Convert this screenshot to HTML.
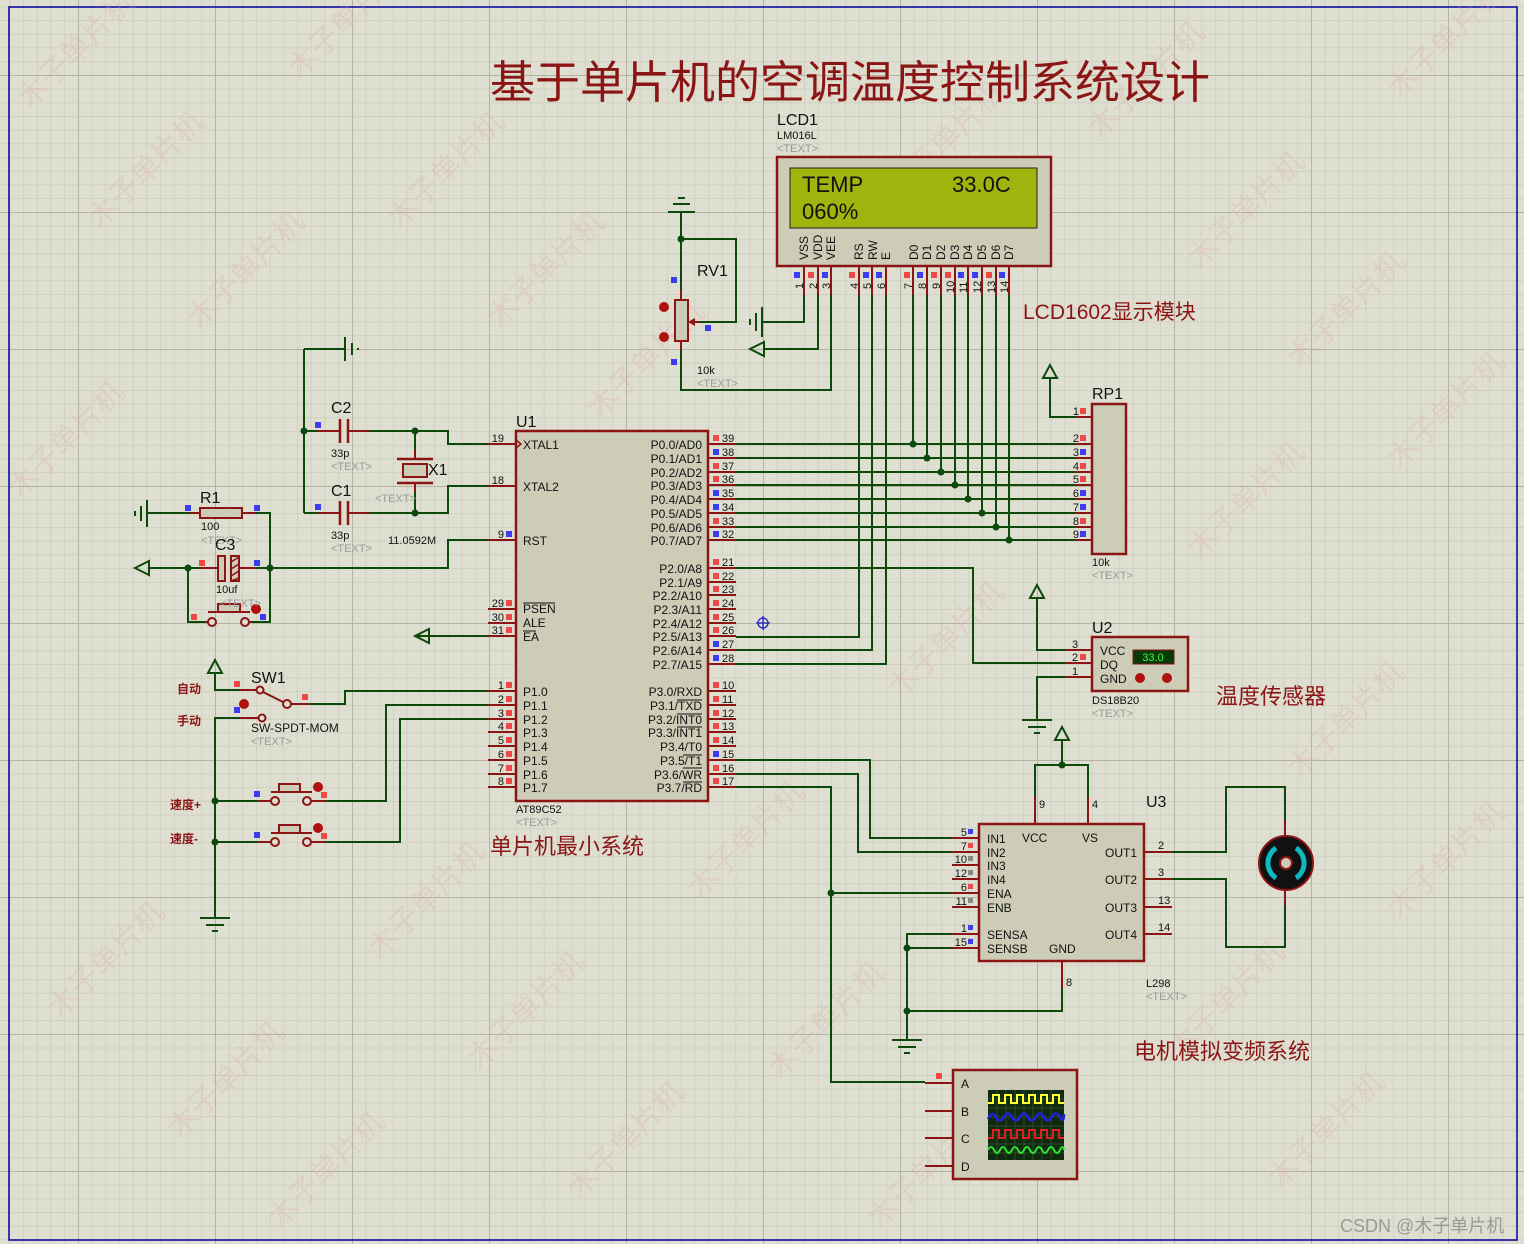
<!DOCTYPE html>
<html><head><meta charset="utf-8"><style>
html,body{margin:0;padding:0;background:#dfdfd1}
svg{display:block}
text{font-family:"Liberation Sans","Noto Sans CJK SC",sans-serif}
.w{stroke:#0c4a0c;stroke-width:2;fill:none}
.p{stroke:#8b1414;stroke-width:2;fill:none}
.b{fill:#cdccb7;stroke:#8b1414;stroke-width:2.5}
.t{font-size:12px;fill:#111}
.s{font-size:11px;fill:#111}
.g{font-size:11px;fill:#999}
.L{font-size:16px;fill:#111}
.cn{fill:#8b1414;font-family:"Liberation Sans","Noto Sans CJK SC",sans-serif}
.r{fill:#f04848}.u{fill:#3c3cf0}.gr{fill:#888}
.wm{font-size:30px;fill:#e0a0a0;opacity:.22;font-family:"Noto Sans CJK SC",sans-serif}
</style></head><body>
<svg width="1524" height="1244" viewBox="0 0 1524 1244" xmlns="http://www.w3.org/2000/svg">
<defs>
<pattern id="mi" x="78" y="75" width="13.7" height="13.7" patternUnits="userSpaceOnUse"><path d="M0,0H13.7M0,0V13.7" stroke="#c8c8b8" stroke-width="1.2" fill="none"/></pattern>
<pattern id="ma" x="78" y="75" width="137" height="137" patternUnits="userSpaceOnUse"><path d="M0,0H137M0,0V137" stroke="#b4b4a4" stroke-width="2" fill="none"/></pattern>
</defs>
<rect width="1524" height="1244" fill="#dfdfd1"/>
<rect width="1524" height="1244" fill="url(#mi)"/>
<rect width="1524" height="1244" fill="url(#ma)"/>
<rect x="9" y="7" width="1508" height="1233" fill="none" stroke="#0000a0" stroke-width="1.5"/>

<g>
<text class="wm" transform="translate(30,110) rotate(-45)">木子单片机</text>
<text class="wm" transform="translate(300,80) rotate(-45)">木子单片机</text>
<text class="wm" transform="translate(100,230) rotate(-45)">木子单片机</text>
<text class="wm" transform="translate(200,330) rotate(-45)">木子单片机</text>
<text class="wm" transform="translate(20,500) rotate(-45)">木子单片机</text>
<text class="wm" transform="translate(400,230) rotate(-45)">木子单片机</text>
<text class="wm" transform="translate(500,330) rotate(-45)">木子单片机</text>
<text class="wm" transform="translate(600,420) rotate(-45)">木子单片机</text>
<text class="wm" transform="translate(900,200) rotate(-45)">木子单片机</text>
<text class="wm" transform="translate(1100,140) rotate(-45)">木子单片机</text>
<text class="wm" transform="translate(1400,100) rotate(-45)">木子单片机</text>
<text class="wm" transform="translate(1200,270) rotate(-45)">木子单片机</text>
<text class="wm" transform="translate(1300,370) rotate(-45)">木子单片机</text>
<text class="wm" transform="translate(1400,470) rotate(-45)">木子单片机</text>
<text class="wm" transform="translate(1200,560) rotate(-45)">木子单片机</text>
<text class="wm" transform="translate(900,700) rotate(-45)">木子单片机</text>
<text class="wm" transform="translate(580,800) rotate(-45)">木子单片机</text>
<text class="wm" transform="translate(700,900) rotate(-45)">木子单片机</text>
<text class="wm" transform="translate(1300,780) rotate(-45)">木子单片机</text>
<text class="wm" transform="translate(1400,920) rotate(-45)">木子单片机</text>
<text class="wm" transform="translate(60,1020) rotate(-45)">木子单片机</text>
<text class="wm" transform="translate(380,960) rotate(-45)">木子单片机</text>
<text class="wm" transform="translate(480,1070) rotate(-45)">木子单片机</text>
<text class="wm" transform="translate(180,1140) rotate(-45)">木子单片机</text>
<text class="wm" transform="translate(580,1200) rotate(-45)">木子单片机</text>
<text class="wm" transform="translate(780,1080) rotate(-45)">木子单片机</text>
<text class="wm" transform="translate(1180,1060) rotate(-45)">木子单片机</text>
<text class="wm" transform="translate(1280,1190) rotate(-45)">木子单片机</text>
<text class="wm" transform="translate(280,1230) rotate(-45)">木子单片机</text>
<text class="wm" transform="translate(880,1230) rotate(-45)">木子单片机</text>
</g>

<text x="490" y="98" class="cn" font-size="45">基于单片机的空调温度控制系统设计</text>
<text x="1023" y="319" class="cn" font-size="21">LCD1602显示模块</text>
<text x="1216" y="704" class="cn" font-size="22">温度传感器</text>
<text x="490" y="854" class="cn" font-size="22">单片机最小系统</text>
<text x="1134" y="1059" class="cn" font-size="22">电机模拟变频系统</text>
<text x="1340" y="1232" font-size="18" fill="#9a9a9a">CSDN @木子单片机</text>

<!-- LCD -->
<text x="777" y="125" class="L">LCD1</text>
<text x="777" y="139" class="s">LM016L</text>
<text x="777" y="152" class="g">&lt;TEXT&gt;</text>
<rect x="777" y="157" width="274" height="109" class="b"/>
<rect x="790" y="168" width="247" height="60" fill="#9fb40c" stroke="#222" stroke-width="1"/>
<text x="802" y="192" font-family="DejaVu Sans Mono,monospace" font-size="22" fill="#111">TEMP</text>
<text x="952" y="192" font-family="DejaVu Sans Mono,monospace" font-size="22" fill="#111">33.0C</text>
<text x="802" y="219" font-family="DejaVu Sans Mono,monospace" font-size="22" fill="#111">060%</text>
<g class="t" font-size="12">
<text transform="translate(808,260) rotate(-90)">VSS</text>
<text transform="translate(822,260) rotate(-90)">VDD</text>
<text transform="translate(835,260) rotate(-90)">VEE</text>
<text transform="translate(863,260) rotate(-90)">RS</text>
<text transform="translate(877,260) rotate(-90)">RW</text>
<text transform="translate(890,260) rotate(-90)">E</text>
<text transform="translate(918,260) rotate(-90)">D0</text>
<text transform="translate(931,260) rotate(-90)">D1</text>
<text transform="translate(945,260) rotate(-90)">D2</text>
<text transform="translate(959,260) rotate(-90)">D3</text>
<text transform="translate(972,260) rotate(-90)">D4</text>
<text transform="translate(986,260) rotate(-90)">D5</text>
<text transform="translate(1000,260) rotate(-90)">D6</text>
<text transform="translate(1013,260) rotate(-90)">D7</text>
</g>
<g class="p">
<path d="M804,266V295M818,266V295M831,266V295M859,266V295M872,266V295M886,266V295M913,266V295M927,266V295M941,266V295M955,266V295M968,266V295M982,266V295M996,266V295M1009,266V295"/>
</g>
<g font-size="11" fill="#111">
<text transform="translate(803,289) rotate(-90)">1</text>
<text transform="translate(817,289) rotate(-90)">2</text>
<text transform="translate(830,289) rotate(-90)">3</text>
<text transform="translate(858,289) rotate(-90)">4</text>
<text transform="translate(871,289) rotate(-90)">5</text>
<text transform="translate(885,289) rotate(-90)">6</text>
<text transform="translate(912,289) rotate(-90)">7</text>
<text transform="translate(926,289) rotate(-90)">8</text>
<text transform="translate(940,289) rotate(-90)">9</text>
<text transform="translate(954,293) rotate(-90)">10</text>
<text transform="translate(967,293) rotate(-90)">11</text>
<text transform="translate(981,293) rotate(-90)">12</text>
<text transform="translate(995,293) rotate(-90)">13</text>
<text transform="translate(1008,293) rotate(-90)">14</text>
</g>
<rect x="794" y="272" width="6" height="6" class="u"/><rect x="808" y="272" width="6" height="6" class="r"/><rect x="822" y="272" width="6" height="6" class="u"/>
<rect x="849" y="272" width="6" height="6" class="r"/><rect x="863" y="272" width="6" height="6" class="u"/><rect x="876" y="272" width="6" height="6" class="u"/>
<rect x="904" y="272" width="6" height="6" class="r"/><rect x="917" y="272" width="6" height="6" class="u"/><rect x="931" y="272" width="6" height="6" class="r"/>
<rect x="945" y="272" width="6" height="6" class="r"/><rect x="958" y="272" width="6" height="6" class="u"/><rect x="972" y="272" width="6" height="6" class="u"/>
<rect x="986" y="272" width="6" height="6" class="r"/><rect x="999" y="272" width="6" height="6" class="u"/>

<g class="w">
<path d="M804,295V322H762"/>
<path d="M818,295V349H764"/>
<path d="M831,295V390H681V350"/>
<path d="M859,295V637H736"/>
<path d="M872,295V650H736"/>
<path d="M886,295V664H736"/>
<path d="M913,295V444M927,295V458M941,295V472M955,295V485M968,295V499M982,295V513M996,295V527M1009,295V540"/>
<path d="M736,444H1075M736,458H1075M736,472H1075M736,485H1075M736,499H1075M736,513H1075M736,527H1075M736,540H1075"/>
</g>
<g fill="#0c4a0c">
<circle cx="913" cy="444" r="3.5"/><circle cx="927" cy="458" r="3.5"/><circle cx="941" cy="472" r="3.5"/><circle cx="955" cy="485" r="3.5"/><circle cx="968" cy="499" r="3.5"/><circle cx="982" cy="513" r="3.5"/><circle cx="996" cy="527" r="3.5"/><circle cx="1009" cy="540" r="3.5"/>
</g>
<g stroke="#0c4a0c" stroke-width="2"><path d="M762,307V337M756,313V331M750,319V325"/></g>
<polygon points="750,349 764,342 764,356" fill="none" stroke="#0c4a0c" stroke-width="2"/>

<!-- RV1 -->
<g class="w"><path d="M681,212V290M681,239H736V322H700"/></g>
<circle cx="681" cy="239" r="3.5" fill="#0c4a0c"/>
<g stroke="#0c4a0c" stroke-width="2"><path d="M668,212H695M673,204H690M678,198H685"/></g>
<g class="p"><path d="M681,290V300M681,341V350M700,322H690"/></g>
<polygon points="688,322 695,318 695,326" fill="#8b1414"/>
<rect x="675" y="300" width="13" height="41" fill="#cdccb7" stroke="#8b1414" stroke-width="2"/>
<circle cx="664" cy="307" r="5" fill="#b01010"/><circle cx="664" cy="337" r="5" fill="#b01010"/>
<rect x="671" y="277" width="6" height="6" class="u"/><rect x="705" y="325" width="6" height="6" class="u"/><rect x="671" y="359" width="6" height="6" class="u"/>
<text x="697" y="276" class="L">RV1</text>
<text x="697" y="374" class="s">10k</text>
<text x="697" y="387" class="g">&lt;TEXT&gt;</text>

<!-- RP1 -->
<text x="1092" y="399" class="L">RP1</text>
<rect x="1092" y="404" width="34" height="150" class="b"/>
<g class="p"><path d="M1075,417H1092M1075,444H1092M1075,458H1092M1075,472H1092M1075,485H1092M1075,499H1092M1075,513H1092M1075,527H1092M1075,540H1092"/></g>
<g class="s" text-anchor="end">
<text x="1079" y="415">1</text><text x="1079" y="442">2</text><text x="1079" y="456">3</text><text x="1079" y="470">4</text><text x="1079" y="483">5</text><text x="1079" y="497">6</text><text x="1079" y="511">7</text><text x="1079" y="525">8</text><text x="1079" y="538">9</text>
</g>
<rect x="1080" y="408" width="6" height="6" class="r"/><rect x="1080" y="435" width="6" height="6" class="r"/><rect x="1080" y="449" width="6" height="6" class="u"/><rect x="1080" y="463" width="6" height="6" class="r"/><rect x="1080" y="476" width="6" height="6" class="r"/><rect x="1080" y="490" width="6" height="6" class="u"/><rect x="1080" y="504" width="6" height="6" class="u"/><rect x="1080" y="518" width="6" height="6" class="r"/><rect x="1080" y="531" width="6" height="6" class="u"/>
<path d="M1050,378V417H1075" class="w"/>
<polygon points="1050,365 1043,378 1057,378" fill="none" stroke="#0c4a0c" stroke-width="2"/>
<text x="1092" y="566" class="s">10k</text>
<text x="1092" y="579" class="g">&lt;TEXT&gt;</text>

<!-- MCU -->
<text x="516" y="427" class="L">U1</text>
<rect x="516" y="431" width="192" height="370" class="b"/>
<g class="p">
<path d="M708,444H736M708,458H736M708,472H736M708,485H736M708,499H736M708,513H736M708,527H736M708,540H736"/>
<path d="M708,568H736M708,582H736M708,595H736M708,609H736M708,623H736M708,636H736M708,650H736M708,664H736"/>
<path d="M708,691H736M708,705H736M708,719H736M708,732H736M708,746H736M708,760H736M708,774H736M708,787H736"/>
<path d="M488,444H516M488,486H516M488,540H516M488,609H516M488,623H516M488,636H516"/>
<path d="M488,691H516M488,705H516M488,719H516M488,732H516M488,746H516M488,760H516M488,774H516M488,787H516"/>
</g>
<polyline points="516,440 521,444 516,448" fill="none" stroke="#8b1414" stroke-width="1.5"/>
<g class="s">
<text x="722" y="442">39</text><text x="722" y="456">38</text><text x="722" y="470">37</text><text x="722" y="483">36</text><text x="722" y="497">35</text><text x="722" y="511">34</text><text x="722" y="525">33</text><text x="722" y="538">32</text>
<text x="722" y="566">21</text><text x="722" y="580">22</text><text x="722" y="593">23</text><text x="722" y="607">24</text><text x="722" y="621">25</text><text x="722" y="634">26</text><text x="722" y="648">27</text><text x="722" y="662">28</text>
<text x="722" y="689">10</text><text x="722" y="703">11</text><text x="722" y="717">12</text><text x="722" y="730">13</text><text x="722" y="744">14</text><text x="722" y="758">15</text><text x="722" y="772">16</text><text x="722" y="785">17</text>
</g>
<g class="s" text-anchor="end">
<text x="504" y="442">19</text><text x="504" y="484">18</text><text x="504" y="538">9</text>
<text x="504" y="607">29</text><text x="504" y="621">30</text><text x="504" y="634">31</text>
<text x="504" y="689">1</text><text x="504" y="703">2</text><text x="504" y="717">3</text><text x="504" y="730">4</text><text x="504" y="744">5</text><text x="504" y="758">6</text><text x="504" y="772">7</text><text x="504" y="785">8</text>
</g>
<g>
<rect x="713" y="435" width="6" height="6" class="r"/><rect x="713" y="449" width="6" height="6" class="u"/><rect x="713" y="463" width="6" height="6" class="r"/><rect x="713" y="476" width="6" height="6" class="r"/><rect x="713" y="490" width="6" height="6" class="u"/><rect x="713" y="504" width="6" height="6" class="u"/><rect x="713" y="518" width="6" height="6" class="r"/><rect x="713" y="531" width="6" height="6" class="u"/>
<rect x="713" y="559" width="6" height="6" class="r"/><rect x="713" y="573" width="6" height="6" class="r"/><rect x="713" y="586" width="6" height="6" class="r"/><rect x="713" y="600" width="6" height="6" class="r"/><rect x="713" y="614" width="6" height="6" class="r"/><rect x="713" y="627" width="6" height="6" class="r"/><rect x="713" y="641" width="6" height="6" class="u"/><rect x="713" y="655" width="6" height="6" class="u"/>
<rect x="713" y="682" width="6" height="6" class="r"/><rect x="713" y="696" width="6" height="6" class="r"/><rect x="713" y="710" width="6" height="6" class="r"/><rect x="713" y="723" width="6" height="6" class="r"/><rect x="713" y="737" width="6" height="6" class="r"/><rect x="713" y="751" width="6" height="6" class="u"/><rect x="713" y="765" width="6" height="6" class="r"/><rect x="713" y="778" width="6" height="6" class="r"/>
<rect x="506" y="531" width="6" height="6" class="u"/>
<rect x="506" y="600" width="6" height="6" class="r"/><rect x="506" y="614" width="6" height="6" class="r"/><rect x="506" y="627" width="6" height="6" class="r"/>
<rect x="506" y="682" width="6" height="6" class="r"/><rect x="506" y="696" width="6" height="6" class="r"/><rect x="506" y="710" width="6" height="6" class="r"/><rect x="506" y="723" width="6" height="6" class="r"/><rect x="506" y="737" width="6" height="6" class="r"/><rect x="506" y="751" width="6" height="6" class="r"/><rect x="506" y="765" width="6" height="6" class="r"/><rect x="506" y="778" width="6" height="6" class="r"/>
</g>
<g class="t">
<text x="523" y="449">XTAL1</text><text x="523" y="491">XTAL2</text><text x="523" y="545">RST</text>
<text x="523" y="613">PSEN</text><text x="523" y="627">ALE</text><text x="523" y="641">EA</text>
<text x="523" y="696">P1.0</text><text x="523" y="710">P1.1</text><text x="523" y="724">P1.2</text><text x="523" y="737">P1.3</text><text x="523" y="751">P1.4</text><text x="523" y="765">P1.5</text><text x="523" y="779">P1.6</text><text x="523" y="792">P1.7</text>
</g>
<path d="M523,603H555M523,631H536" stroke="#111" stroke-width="1"/>
<g class="t" text-anchor="end">
<text x="702" y="449">P0.0/AD0</text><text x="702" y="463">P0.1/AD1</text><text x="702" y="477">P0.2/AD2</text><text x="702" y="490">P0.3/AD3</text><text x="702" y="504">P0.4/AD4</text><text x="702" y="518">P0.5/AD5</text><text x="702" y="532">P0.6/AD6</text><text x="702" y="545">P0.7/AD7</text>
<text x="702" y="573">P2.0/A8</text><text x="702" y="587">P2.1/A9</text><text x="702" y="600">P2.2/A10</text><text x="702" y="614">P2.3/A11</text><text x="702" y="628">P2.4/A12</text><text x="702" y="641">P2.5/A13</text><text x="702" y="655">P2.6/A14</text><text x="702" y="669">P2.7/A15</text>
<text x="702" y="696">P3.0/RXD</text><text x="702" y="710">P3.1/TXD</text><text x="702" y="724">P3.2/INT0</text><text x="702" y="737">P3.3/INT1</text><text x="702" y="751">P3.4/T0</text><text x="702" y="765">P3.5/T1</text><text x="702" y="779">P3.6/WR</text><text x="702" y="792">P3.7/RD</text>
</g>
<path d="M677,700H702M677,714H702M677,727H702M683,755H702M683,768H702M683,782H702" stroke="#111" stroke-width="1"/>
<text x="516" y="813" class="s">AT89C52</text>
<text x="516" y="826" class="g">&lt;TEXT&gt;</text>
<g stroke="#2020c0" stroke-width="1.3" fill="none"><circle cx="763" cy="623" r="5"/><path d="M756,623H770M763,616V630"/></g>

<!-- Crystal -->
<g class="w">
<path d="M304,349V513M304,349H345M304,431H318M370,431H448V444H488M304,513H318M370,513H448V486H488"/>
<path d="M415,431V450M415,492V513"/>
</g>
<circle cx="304" cy="431" r="3.5" fill="#0c4a0c"/><circle cx="415" cy="431" r="3.5" fill="#0c4a0c"/><circle cx="415" cy="513" r="3.5" fill="#0c4a0c"/>
<g stroke="#0c4a0c" stroke-width="2"><path d="M345,337V361M352,343V355M358,348V350"/></g>
<g class="p"><path d="M318,431H340M348,431H370M318,513H340M348,513H370M415,450V459M415,483V492"/></g>
<g stroke="#8b1414" stroke-width="2.5"><path d="M340,419V443M348,419V443M340,501V525M348,501V525M397,459H433M397,483H433"/></g>
<rect x="403" y="464" width="24" height="13" fill="#cdccb7" stroke="#8b1414" stroke-width="2"/>
<rect x="315" y="422" width="6" height="6" class="u"/><rect x="315" y="504" width="6" height="6" class="u"/>
<text x="331" y="413" class="L">C2</text><text x="331" y="457" class="s">33p</text><text x="331" y="470" class="g">&lt;TEXT&gt;</text>
<text x="331" y="496" class="L">C1</text><text x="331" y="539" class="s">33p</text><text x="331" y="552" class="g">&lt;TEXT&gt;</text>
<text x="428" y="475" class="L">X1</text><text x="375" y="502" class="g">&lt;TEXT&gt;</text>
<text x="388" y="544" class="s">11.0592M</text>

<!-- Reset -->
<g class="w">
<path d="M147,513H190M255,513H270V622H252M149,568H200M255,568H448V540H488M188,568V622H205"/>
<path d="M415,636H488"/>
</g>
<g stroke="#0c4a0c" stroke-width="2"><path d="M147,500V527M141,506V521M135,511V516"/></g>
<polygon points="135,568 149,561 149,575" fill="none" stroke="#0c4a0c" stroke-width="2"/>
<polygon points="415,636 429,629 429,643" fill="none" stroke="#0c4a0c" stroke-width="2"/>
<circle cx="188" cy="568" r="3.5" fill="#0c4a0c"/><circle cx="270" cy="568" r="3.5" fill="#0c4a0c"/>
<g class="p"><path d="M190,513H200M242,513H255M200,568H218M239,568H255M205,622H208M249,622H252M208,612H250"/></g>
<rect x="200" y="508" width="42" height="10" fill="#cdccb7" stroke="#8b1414" stroke-width="2"/>
<rect x="218" y="556" width="7" height="25" fill="#cdccb7" stroke="#8b1414" stroke-width="2"/>
<rect x="231" y="556" width="8" height="25" fill="#cdccb7" stroke="#8b1414" stroke-width="2"/>
<path d="M231,562L239,557M231,569L239,564M231,576L239,571M231,581L239,578" stroke="#8b1414" stroke-width="1.5"/>
<rect x="218" y="604" width="22" height="8" fill="#cdccb7" stroke="#8b1414" stroke-width="2"/>
<circle cx="212" cy="622" r="4" fill="#dfdfd1" stroke="#8b1414" stroke-width="2"/>
<circle cx="245" cy="622" r="4" fill="#dfdfd1" stroke="#8b1414" stroke-width="2"/>
<circle cx="256" cy="609" r="5" fill="#b01010"/>
<rect x="185" y="505" width="6" height="6" class="u"/><rect x="254" y="505" width="6" height="6" class="u"/>
<rect x="199" y="560" width="6" height="6" class="r"/><rect x="254" y="560" width="6" height="6" class="u"/>
<rect x="191" y="614" width="6" height="6" class="r"/><rect x="260" y="614" width="6" height="6" class="u"/>
<text x="200" y="503" class="L">R1</text><text x="201" y="530" class="s">100</text><text x="201" y="544" class="g">&lt;TEXT&gt;</text>
<text x="215" y="550" class="L">C3</text><text x="216" y="593" class="s">10uf</text><text x="220" y="607" class="g">&lt;TEXT&gt;</text>

<!-- Switches -->
<g class="w">
<path d="M215,673V690H240M310,704H345V691H488M240,718H215V918"/>
<path d="M215,801H258M325,801H386V705H488M215,842H258M325,842H400V719H488"/>
</g>
<polygon points="215,660 208,673 222,673" fill="none" stroke="#0c4a0c" stroke-width="2"/>
<circle cx="215" cy="801" r="3.5" fill="#0c4a0c"/><circle cx="215" cy="842" r="3.5" fill="#0c4a0c"/>
<g stroke="#0c4a0c" stroke-width="2"><path d="M200,918H230M206,925H224M212,931H218"/></g>
<g class="p"><path d="M240,690H257M240,718H258M263,692L283,702M291,704H310"/>
<path d="M258,801H271M311,801H325M271,792H312M258,842H271M311,842H325M271,833H312"/></g>
<circle cx="260" cy="690" r="3.5" fill="#dfdfd1" stroke="#8b1414" stroke-width="2"/>
<circle cx="287" cy="704" r="4" fill="#dfdfd1" stroke="#8b1414" stroke-width="2"/>
<circle cx="262" cy="718" r="3.5" fill="#dfdfd1" stroke="#8b1414" stroke-width="2"/>
<circle cx="244" cy="704" r="5" fill="#b01010"/>
<rect x="279" y="784" width="21" height="8" fill="#cdccb7" stroke="#8b1414" stroke-width="2"/>
<rect x="279" y="825" width="21" height="8" fill="#cdccb7" stroke="#8b1414" stroke-width="2"/>
<circle cx="275" cy="801" r="4" fill="#dfdfd1" stroke="#8b1414" stroke-width="2"/><circle cx="307" cy="801" r="4" fill="#dfdfd1" stroke="#8b1414" stroke-width="2"/>
<circle cx="275" cy="842" r="4" fill="#dfdfd1" stroke="#8b1414" stroke-width="2"/><circle cx="307" cy="842" r="4" fill="#dfdfd1" stroke="#8b1414" stroke-width="2"/>
<circle cx="318" cy="787" r="5" fill="#b01010"/><circle cx="318" cy="828" r="5" fill="#b01010"/>
<rect x="234" y="681" width="6" height="6" class="r"/><rect x="302" y="694" width="6" height="6" class="r"/><rect x="234" y="707" width="6" height="6" class="u"/>
<rect x="254" y="791" width="6" height="6" class="u"/><rect x="321" y="792" width="6" height="6" class="r"/>
<rect x="254" y="832" width="6" height="6" class="u"/><rect x="321" y="833" width="6" height="6" class="r"/>
<text x="251" y="683" class="L">SW1</text>
<text x="251" y="732" class="t">SW-SPDT-MOM</text>
<text x="251" y="745" class="g">&lt;TEXT&gt;</text>
<text x="177" y="693" class="cn" font-size="12" font-weight="bold">自动</text>
<text x="177" y="725" class="cn" font-size="12" font-weight="bold">手动</text>
<text x="170" y="809" class="cn" font-size="12" font-weight="bold">速度+</text>
<text x="170" y="843" class="cn" font-size="12" font-weight="bold">速度-</text>

<!-- U2 -->
<text x="1092" y="633" class="L">U2</text>
<rect x="1092" y="637" width="96" height="54" class="b"/>
<g class="p"><path d="M1065,650H1092M1065,663H1092M1065,677H1092"/></g>
<g class="w"><path d="M1037,598V650H1065M736,568H973V663H1065M1065,677H1037V720"/></g>
<polygon points="1037,585 1030,598 1044,598" fill="none" stroke="#0c4a0c" stroke-width="2"/>
<g stroke="#0c4a0c" stroke-width="2"><path d="M1022,720H1052M1028,727H1046M1034,733H1040"/></g>
<g class="s"><text x="1072" y="648">3</text><text x="1072" y="661">2</text><text x="1072" y="675">1</text></g>
<rect x="1080" y="654" width="6" height="6" class="r"/>
<g class="t"><text x="1100" y="655">VCC</text><text x="1100" y="669">DQ</text><text x="1100" y="683">GND</text></g>
<rect x="1133" y="650" width="41" height="14" fill="#063a06" stroke="#8b1414" stroke-width="1"/>
<text x="1153" y="661" font-size="11" fill="#3cff3c" text-anchor="middle">33.0</text>
<circle cx="1140" cy="678" r="5" fill="#b01010"/><circle cx="1167" cy="678" r="5" fill="#b01010"/>
<text x="1092" y="704" class="s">DS18B20</text>
<text x="1092" y="717" class="g">&lt;TEXT&gt;</text>

<!-- L298 -->
<text x="1146" y="807" class="L">U3</text>
<rect x="979" y="824" width="165" height="137" class="b"/>
<g class="p">
<path d="M952,838H979M952,852H979M952,865H979M952,879H979M952,893H979M952,907H979M952,934H979M952,948H979"/>
<path d="M1035,797V824M1088,797V824M1062,961V988"/>
<path d="M1144,852H1172M1144,879H1172M1144,907H1172M1144,934H1172M1285,820V836M1285,890V905"/>
</g>
<g class="w">
<path d="M736,760H870V838H952M736,774H858V852H952M736,787H831V1082H925M831,893H952"/>
<path d="M952,934H907V1040M952,948H907M1062,988V1011H907"/>
<path d="M1035,797V765H1088V797M1062,765V740"/>
<path d="M1172,852H1226V787H1285V820M1172,879H1226V947H1285V905"/>
</g>
<circle cx="831" cy="893" r="3.5" fill="#0c4a0c"/><circle cx="907" cy="948" r="3.5" fill="#0c4a0c"/><circle cx="907" cy="1011" r="3.5" fill="#0c4a0c"/><circle cx="1062" cy="765" r="3.5" fill="#0c4a0c"/>
<polygon points="1062,727 1055,740 1069,740" fill="none" stroke="#0c4a0c" stroke-width="2"/>
<g stroke="#0c4a0c" stroke-width="2"><path d="M892,1040H922M898,1047H916M904,1053H910"/></g>
<g class="s" text-anchor="end">
<text x="967" y="836">5</text><text x="967" y="850">7</text><text x="967" y="863">10</text><text x="967" y="877">12</text><text x="967" y="891">6</text><text x="967" y="905">11</text><text x="967" y="932">1</text><text x="967" y="946">15</text>
</g>
<rect x="968" y="829" width="5" height="5" class="u"/><rect x="968" y="843" width="5" height="5" class="r"/><rect x="968" y="856" width="5" height="5" class="gr"/><rect x="968" y="870" width="5" height="5" class="gr"/><rect x="968" y="884" width="5" height="5" class="r"/><rect x="968" y="898" width="5" height="5" class="gr"/><rect x="968" y="925" width="5" height="5" class="u"/><rect x="968" y="939" width="5" height="5" class="u"/>
<g class="t">
<text x="987" y="843">IN1</text><text x="987" y="857">IN2</text><text x="987" y="870">IN3</text><text x="987" y="884">IN4</text><text x="987" y="898">ENA</text><text x="987" y="912">ENB</text><text x="987" y="939">SENSA</text><text x="987" y="953">SENSB</text>
<text x="1022" y="842">VCC</text><text x="1082" y="842">VS</text><text x="1049" y="953">GND</text>
</g>
<g class="t" text-anchor="end">
<text x="1137" y="857">OUT1</text><text x="1137" y="884">OUT2</text><text x="1137" y="912">OUT3</text><text x="1137" y="939">OUT4</text>
</g>
<g class="s"><text x="1158" y="849">2</text><text x="1158" y="876">3</text><text x="1158" y="904">13</text><text x="1158" y="931">14</text><text x="1039" y="808">9</text><text x="1092" y="808">4</text><text x="1066" y="986">8</text></g>
<text x="1146" y="987" class="s">L298</text>
<text x="1146" y="1000" class="g">&lt;TEXT&gt;</text>
<circle cx="1286" cy="863" r="27" fill="#111" stroke="#8b1414" stroke-width="2"/>
<path d="M1276,848 A18,18 0 0,0 1276,878" stroke="#10b8c0" stroke-width="5" fill="none"/>
<path d="M1296,848 A18,18 0 0,1 1296,878" stroke="#10b8c0" stroke-width="5" fill="none"/>
<circle cx="1286" cy="863" r="6" fill="#cdccb7" stroke="#8b1414" stroke-width="2"/>

<!-- Oscilloscope -->
<rect x="953" y="1070" width="124" height="109" class="b"/>
<g class="p"><path d="M925,1083H953M925,1111H953M925,1138H953M925,1166H953"/></g>
<rect x="936" y="1073" width="6" height="6" class="r"/>
<g class="t" font-size="12"><text x="961" y="1088">A</text><text x="961" y="1116">B</text><text x="961" y="1143">C</text><text x="961" y="1171">D</text></g>
<rect x="988" y="1090" width="76" height="70" fill="#102a10"/>
<path d="M988,1099H1064M988,1108H1064M988,1117H1064M988,1126H1064M988,1135H1064M988,1144H1064M988,1153H1064M997,1090V1160M1006,1090V1160M1015,1090V1160M1024,1090V1160M1033,1090V1160M1042,1090V1160M1051,1090V1160" stroke="#2a4a2a" stroke-width="1"/>
<path d="M988,1103H993V1095H999V1103H1005V1095H1011V1103H1017V1095H1023V1103H1029V1095H1035V1103H1041V1095H1047V1103H1053V1095H1059V1103H1064" stroke="#ffff30" stroke-width="2" fill="none"/>
<path d="M988,1119 Q992,1110 996,1117 T1004,1117 T1012,1117 T1020,1117 T1028,1117 T1036,1117 T1044,1117 T1052,1117 T1060,1117 T1064,1114" stroke="#2020e0" stroke-width="2.5" fill="none"/>
<path d="M988,1138H993V1130H999V1138H1005V1130H1011V1138H1017V1130H1023V1138H1029V1130H1035V1138H1041V1130H1047V1138H1053V1130H1059V1138H1064" stroke="#e02020" stroke-width="2" fill="none"/>
<path d="M988,1150 Q991,1144 994,1150 T1000,1150 T1006,1150 T1012,1150 T1018,1150 T1024,1150 T1030,1150 T1036,1150 T1042,1150 T1048,1150 T1054,1150 T1060,1150 T1064,1150" stroke="#30e030" stroke-width="2" fill="none"/>
</svg>
</body></html>
